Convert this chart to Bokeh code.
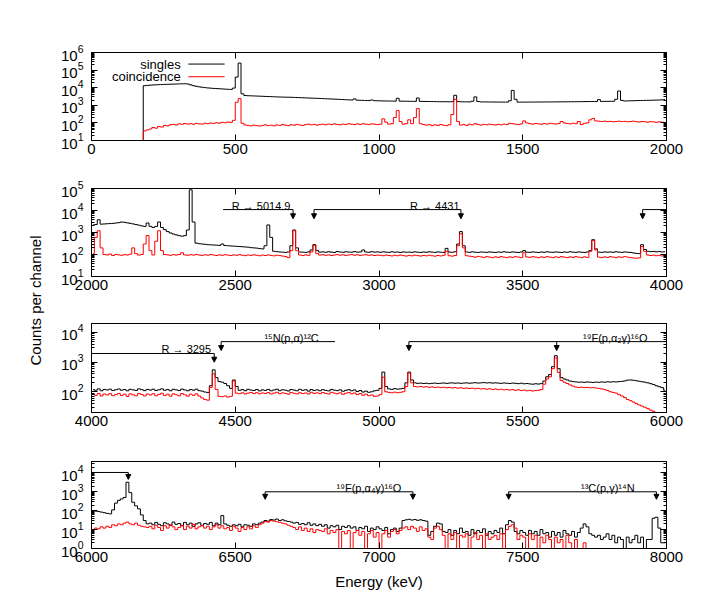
import math
import numpy as np
from bokeh.plotting import figure
from bokeh.models import (Range1d, FixedTicker, LinearAxis, LogAxis, Label, Arrow,
                          NormalHead, CustomJSTickFormatter)
from bokeh.layouts import row, column
from bokeh.embed import file_html
from bokeh.resources import INLINE

# ---------------- data (counts per 10 keV bin) ----------------
BIN_KEV = 10
panel_starts = [0, 2000, 4000, 6000]
panel_ymin = [10, 10, 20, 1]
panel_ymax = [1e6, 1e5, 2e4, 4e4]
x_tick_step = 500

singles_p1 = [
    10, 10, 10, 10, 10, 10, 10, 10, 10, 10,
    10, 10, 10, 10, 10, 10, 10, 10, 13000, 13500,
    14000, 14300, 14600, 14900, 15100, 15400, 15600, 15800, 16000, 16200,
    16400, 16600, 16800, 16200, 14500, 13000, 12000, 11200, 10600, 10100,
    9700, 9400, 9100, 8900, 8700, 8500, 8300, 8100, 8000, 9500,
    40000, 250000, 4500, 3600, 3500, 3450, 3400, 3350, 3300, 3250,
    3200, 3150, 3100, 3050, 3000, 2960, 2930, 2900, 2880, 2850,
    2800, 2760, 2720, 2680, 2640, 2600, 2560, 2520, 2480, 2440,
    2400, 2360, 2320, 2280, 2240, 2200, 2160, 2120, 2080, 2040,
    2000, 2300, 1960, 1930, 1900, 1880, 1860, 2000, 1830, 1810,
    1790, 1770, 1760, 1750, 1740, 1730, 2500, 1720, 1710, 1700,
    1690, 1680, 1680, 2600, 1670, 1660, 1650, 1640, 1630, 1620,
    1610, 1600, 1600, 1590, 1590, 1600, 3700, 1620, 1580, 1570,
    1570, 1560, 1700, 3000, 1650, 1560, 1550, 1550, 1540, 1540,
    1530, 1530, 1520, 1520, 1520, 1800, 7000, 2200, 1520, 1520,
    1520, 1520, 1530, 1530, 1530, 1540, 1540, 1540, 1550, 1550,
    1560, 1560, 1570, 1570, 1580, 1580, 1590, 1600, 1600, 1610,
    1620, 1620, 1630, 1640, 1640, 1650, 2100, 1660, 1670, 1680,
    1690, 1700, 2200, 6500, 1900, 1760, 1780, 1800, 1820, 1840,
    1860, 1880, 1900, 1920, 1940, 1960, 1980, 2000, 2050, 2100,
]
coinc_p1 = [
    10, 10, 10, 10, 10, 10, 10, 10, 10, 10,
    10, 10, 10, 10, 10, 10, 10, 10, 35, 40,
    45, 55, 50, 62, 58, 72, 68, 78, 82, 76,
    88, 84, 92, 86, 90, 84, 94, 88, 86, 96,
    90, 98, 94, 102, 96, 108, 102, 112, 106, 140,
    1500, 2400, 95, 76, 72, 68, 75, 70, 66, 72,
    78, 70, 74, 68, 76, 72, 80, 75, 70, 78,
    74, 82, 76, 72, 80, 85, 78, 82, 75, 80,
    84, 78, 86, 80, 88, 82, 78, 85, 80, 90,
    84, 80, 88, 82, 90, 85, 80, 88, 84, 80,
    85, 170, 110, 85, 90, 200, 500, 120, 85, 90,
    150, 90, 200, 650, 90, 80, 75, 80, 70, 78,
    72, 80, 74, 70, 78, 300, 2200, 120, 75, 80,
    72, 85, 78, 90, 80, 75, 82, 78, 85, 80,
    76, 82, 78, 85, 80, 95, 90, 85, 80, 88,
    130, 100, 90, 85, 92, 88, 84, 90, 86, 95,
    90, 86, 92, 120, 100, 92, 88, 95, 90, 120,
    80, 95, 100, 150, 180, 130, 125, 120, 125, 118,
    122, 115, 120, 125, 118, 122, 116, 120, 125, 118,
    112, 120, 116, 110, 118, 114, 108, 115, 110, 105,
]

singles_p2 = [
    2200, 2300, 3800, 2400, 2450, 2500, 2550, 2600, 2700, 2800,
    3000, 2900, 2750, 2600, 2450, 2300, 2150, 2000, 1900, 2700,
    1900, 1700, 1900, 3000, 1700, 1350, 1100, 950, 850, 780,
    720, 680, 720, 1300, 87000, 3000, 330, 310, 300, 290,
    280, 275, 270, 265, 260, 300, 255, 250, 245, 240,
    235, 230, 225, 220, 215, 205, 200, 195, 185, 180,
    250, 2200, 600, 140, 135, 130, 128, 125, 130, 250,
    1300, 200, 130, 128, 125, 130, 160, 280, 150, 128,
    132, 126, 134, 128, 124, 136, 130, 126, 133, 129,
    127, 135, 128, 131, 160, 130, 126, 134, 128, 131,
    126, 132, 128, 125, 133, 127, 130, 124, 131, 127,
    129, 125, 132, 127, 124, 130, 126, 133, 128, 125,
    131, 127, 124, 190, 130, 126, 133, 300, 1100, 250,
    130, 126, 132, 127, 124, 130, 128, 125, 131, 127,
    124, 130, 126, 133, 128, 125, 131, 127, 124, 130,
    150, 128, 125, 131, 127, 124, 130, 126, 133, 128,
    125, 131, 127, 124, 130, 126, 133, 128, 125, 131,
    127, 124, 130, 150, 470, 180, 128, 125, 131, 127,
    130, 126, 133, 128, 125, 131, 127, 124, 118, 112,
    110, 280, 170, 140, 135, 138, 132, 136, 130, 134,
]
coinc_p2 = [
    110, 600, 1200, 200, 100, 95, 105, 90, 100, 96,
    92, 98, 95, 104, 200, 110, 94, 100, 300, 730,
    150, 95, 400, 1200, 150, 100, 96, 92, 98, 94,
    100, 120, 96, 92, 98, 94, 100, 95, 91, 97,
    93, 99, 95, 90, 96, 92, 98, 94, 90, 96,
    92, 98, 93, 89, 95, 91, 97, 92, 88, 94,
    90, 96, 91, 87, 93, 89, 85, 80, 72, 150,
    1200, 150, 95, 90, 96, 92, 130, 260, 110, 94,
    98, 92, 96, 90, 95, 99, 93, 97, 91, 95,
    99, 93, 97, 91, 95, 98, 92, 96, 90, 94,
    92, 88, 94, 90, 86, 92, 88, 94, 89, 85,
    91, 87, 93, 89, 85, 91, 87, 93, 88, 84,
    90, 86, 92, 140, 88, 84, 90, 250, 870, 200,
    88, 84, 80, 75, 82, 78, 74, 80, 76, 72,
    78, 74, 80, 76, 72, 78, 74, 80, 76, 72,
    120, 78, 74, 80, 76, 72, 78, 74, 80, 76,
    72, 78, 74, 80, 76, 72, 78, 74, 80, 76,
    72, 78, 74, 140, 430, 160, 76, 72, 78, 74,
    80, 76, 72, 78, 74, 80, 76, 72, 70, 68,
    70, 230, 140, 95, 90, 94, 88, 92, 86, 90,
]

singles_p3 = [
    118, 112, 125, 108, 120, 115, 122, 110, 117, 124,
    113, 119, 108, 121, 116, 111, 125, 118, 109, 120,
    114, 122, 110, 117, 125, 112, 119, 108, 121, 116,
    110, 123, 115, 108, 119, 113, 122, 109, 105, 98,
    95, 160, 550, 300, 220, 210, 190, 160, 130, 250,
    150, 112, 118, 108, 121, 114, 110, 119, 107, 116,
    111, 120, 108, 115, 122, 109, 117, 113, 106, 119,
    114, 108, 121, 112, 117, 105, 119, 110, 116, 108,
    118, 111, 107, 120, 113, 109, 116, 104, 112, 118,
    108, 115, 102, 110, 98, 105, 96, 100, 108, 112,
    130, 460, 150, 125, 120, 128, 122, 126, 130, 200,
    460, 250, 200, 192, 196, 190, 194, 188, 192, 196,
    190, 194, 198, 192, 196, 200, 194, 198, 192, 196,
    200, 194, 198, 202, 196, 200, 204, 198, 202, 196,
    200, 196, 192, 198, 194, 190, 196, 192, 188, 194,
    186, 190, 184, 180, 186, 182, 188, 230, 320, 380,
    700, 1650, 600, 300, 270, 250, 230, 220, 215, 210,
    212, 208, 214, 210, 206, 212, 208, 214, 210, 216,
    212, 218, 214, 220, 224, 232, 246, 250, 245, 236,
    226, 218, 210, 200, 188, 175, 160, 148, 138, 112,
]
coinc_p3 = [
    82, 76, 88, 72, 84, 78, 86, 74, 80, 88,
    75, 83, 70, 85, 79, 73, 87, 81, 72, 84,
    78, 86, 73, 81, 89, 75, 83, 71, 85, 79,
    73, 87, 79, 71, 83, 76, 85, 72, 62, 55,
    52, 140, 400, 120, 70, 68, 72, 66, 70, 230,
    90, 86, 92, 84, 90, 95, 87, 93, 85, 91,
    88, 94, 84, 90, 96, 86, 92, 88, 83, 95,
    89, 85, 93, 87, 91, 84, 96, 88, 92, 86,
    94, 88, 84, 96, 90, 86, 92, 82, 89, 95,
    85, 91, 80, 87, 76, 83, 74, 78, 70, 72,
    80, 310, 100, 95, 92, 97, 93, 96, 100, 150,
    425, 200, 150, 146, 150, 144, 148, 142, 146, 140,
    144, 138, 142, 136, 140, 134, 138, 132, 136, 130,
    134, 128, 132, 126, 130, 124, 128, 122, 126, 120,
    124, 118, 122, 116, 120, 114, 118, 112, 116, 110,
    114, 108, 112, 106, 110, 112, 118, 180, 270, 320,
    600, 1380, 450, 240, 210, 190, 170, 155, 145, 140,
    142, 138, 140, 136, 138, 134, 130, 125, 118, 110,
    100, 95, 90, 80, 72, 64, 55, 50, 45, 40,
    36, 33, 30, 27, 24, 22, 18, 12, 10, 10,
]

singles_p4 = [
    100, 95, 90, 84, 78, 72, 68, 110, 250, 350,
    420, 500, 3200, 900, 280, 180, 125, 60, 30, 20,
    22, 18, 24, 19, 16, 23, 20, 17, 25, 19,
    21, 16, 24, 18, 22, 15, 20, 23, 17, 21,
    19, 24, 16, 22, 18, 55, 20, 17, 15, 18,
    16, 19, 14, 18, 17, 15, 20, 18, 22, 25,
    30, 28, 34, 32, 36, 30, 33, 29, 27, 25,
    22, 24, 19, 21, 18, 23, 17, 20, 16, 19,
    15, 18, 12, 16, 14, 17, 10, 15, 13, 16,
    12, 14, 9, 13, 11, 15, 8, 12, 10, 14,
    11, 9, 13, 6, 10, 12, 8, 12, 30, 33,
    35, 32, 34, 31, 33, 30, 28, 5, 8, 15,
    22, 20, 8, 7, 10, 5, 9, 6, 12, 7,
    8, 5, 10, 6, 9, 7, 11, 5, 8, 6,
    9, 7, 12, 6, 18, 30, 25, 8, 6, 9,
    7, 5, 9, 6, 8, 5, 10, 6, 7, 4,
    8, 5, 7, 4, 9, 6, 5, 8, 4, 7,
    12, 20, 14, 6, 5, 4, 5, 3, 4, 6,
    3, 5, 2, 4, 3, 1, 4, 2, 3, 5,
    2, 4, 1, 3, 3, 40, 45, 12, 2, 2,
]
coinc_p4 = [
    10, 12, 11, 14, 12, 15, 13, 18, 16, 20,
    18, 22, 25, 20, 18, 22, 17, 15, 14, 13,
    15, 11, 17, 13, 9, 16, 12, 18, 14, 10,
    13, 17, 10, 15, 12, 19, 11, 14, 16, 12,
    15, 10, 14, 18, 12, 16, 11, 13, 9, 15,
    12, 8, 13, 10, 14, 11, 16, 13, 18, 22,
    27, 25, 30, 28, 26, 24, 22, 20, 17, 15,
    13, 10, 14, 9, 12, 8, 11, 7, 10, 9,
    8, 11, 6, 9, 7, 10, 1, 8, 6, 9,
    1, 7, 9, 5, 8, 1, 6, 9, 4, 7,
    1, 6, 9, 4, 8, 10, 6, 9, 12, 14,
    10, 15, 12, 8, 14, 9, 11, 4, 3, 12,
    15, 10, 5, 1, 6, 3, 7, 1, 5, 4,
    6, 1, 4, 7, 3, 5, 1, 6, 3, 4,
    5, 3, 6, 1, 10, 15, 18, 12, 3, 5,
    4, 1, 6, 3, 5, 1, 4, 2, 5, 3,
    1, 4, 2, 3, 1, 5, 2, 1, 3, 1,
    1, 2, 1, 1, 1, 1, 1, 1, 1, 1,
    1, 1, 1, 1, 1, 1, 1, 1, 1, 1,
    1, 1, 1, 1, 1, 1, 1, 1, 1, 1,
]

singles_all = [singles_p1, singles_p2, singles_p3, singles_p4]
coinc_all = [coinc_p1, coinc_p2, coinc_p3, coinc_p4]

# legend (panel 1)
legend_labels = ["singles", "coincidence"]
legend_y = [2.2e5, 4.2e4]

# annotation brackets: horizontal lines, arrows, labels
br_x0 = {1: [2458, 2774, 3917], 2: [3900, 4451, 5104], 3: [5900, 6604, 7451]}
br_x1 = {1: [2701, 3285, 4100], 2: [4427, 4847, 6100], 3: [6128, 7118, 7965]}
br_y = {1: [11000, 11000, 11000], 2: [1950, 4900, 4900], 3: [10500, 1000, 1000]}
ar_x = {1: [2701, 2774, 3285, 3917], 2: [4427, 4451, 5104, 5618],
        3: [6128, 6604, 7118, 7451, 7965]}
ar_top = {1: [11000] * 4, 2: [1950, 4900, 4900, 4900], 3: [10500, 1000, 1000, 1000, 1000]}
ar_tip = {1: [4200] * 4, 2: [990, 2450, 2450, 2450], 3: [4500, 400, 400, 400, 400]}
ann_text = {1: ["R \u2192 5014.9", "R \u2192 4431"],
            2: ["R \u2192 3295", "\u00b9\u2075N(p,\u03b1)\u00b9\u00b2C",
                "\u00b9\u2079F(p,\u03b1\u2082\u03b3)\u00b9\u2076O"],
            3: ["\u00b9\u2079F(p,\u03b1\u2084\u03b3)\u00b9\u2076O",
                "\u00b9\u00b3C(p,\u03b3)\u00b9\u2074N"]}
ann_x = {1: [2692, 3280], 2: [4416, 4696, 5934], 3: [6965, 7796]}
ann_y = {1: [11000, 11000], 2: [1950, 4900, 4900], 3: [1000, 1000]}
ann_align = {1: ["right", "right"], 2: ["right", "center", "right"], 3: ["center", "center"]}

# ---------------- styling ----------------
FONT = "Liberation Sans"
BLACK = "#000000"
RED = "#ff0000"
FIG_W = 660
heights = [164, 136, 136, 168]
tops = [52, 24, 23, 25]
bottoms = [24, 24, 24, 56]


def log_ticks(lo, hi):
    majors = [10.0 ** k for k in range(-1, 8) if lo <= 10.0 ** k <= hi * 1.0001]
    minors = [m * 10.0 ** k for k in range(-1, 8) for m in range(2, 10)
              if lo <= m * 10.0 ** k <= hi]
    return majors, minors


def style_axis(ax, labels=True):
    ax.axis_line_color = BLACK
    ax.axis_line_width = 1
    ax.major_tick_line_color = BLACK
    ax.minor_tick_line_color = BLACK
    ax.major_tick_in = 6
    ax.major_tick_out = 0
    ax.minor_tick_in = 3
    ax.minor_tick_out = 0
    ax.major_label_text_font = FONT
    ax.major_label_text_font_size = "15px"
    ax.major_label_text_color = BLACK
    if not labels:
        ax.formatter = CustomJSTickFormatter(code="return ''")


panels = []
for i in range(4):
    x0 = panel_starts[i]
    p = figure(width=FIG_W, height=heights[i],
               x_range=Range1d(x0, x0 + 2000),
               y_range=Range1d(panel_ymin[i], panel_ymax[i]),
               y_axis_type="log", output_backend="svg", toolbar_location=None,
               min_border_left=43, min_border_right=42,
               min_border_top=tops[i], min_border_bottom=bottoms[i])
    p.grid.visible = False
    p.outline_line_color = BLACK
    p.outline_line_alpha = 1.0
    p.background_fill_color = "white"
    p.border_fill_color = "white"

    xt = FixedTicker(ticks=[x0 + k * x_tick_step for k in range(5)], minor_ticks=[])
    majors, minors = log_ticks(panel_ymin[i], panel_ymax[i])
    yt = FixedTicker(ticks=majors, minor_ticks=minors)

    xa = p.below[0]
    xa.ticker = xt
    style_axis(xa)
    xa.minor_tick_in = 0
    xa.major_label_standoff = 3
    ya = p.left[0]
    ya.ticker = yt
    style_axis(ya)
    ya.major_label_standoff = 8

    top = LinearAxis(ticker=xt)
    style_axis(top, labels=False)
    top.minor_tick_in = 0
    p.add_layout(top, "above")
    right = LogAxis(ticker=yt)
    style_axis(right, labels=False)
    p.add_layout(right, "right")

    energy = np.arange(x0, x0 + 2000, BIN_KEV) + BIN_KEV / 2
    assert len(singles_all[i]) == len(energy) and len(coinc_all[i]) == len(energy), i
    p.step(energy, singles_all[i], mode="center", line_color=BLACK, line_width=1)
    p.step(energy, coinc_all[i], mode="center", line_color=RED, line_width=1)

    if i == 0:
        for lab, yy, col in zip(legend_labels, legend_y, [BLACK, RED]):
            p.add_layout(Label(x=310, y=yy, text=lab, text_align="right",
                               text_baseline="middle", text_font=FONT,
                               text_font_size="13px", text_color=BLACK))
            p.segment(x0=[337], y0=[yy], x1=[463], y1=[yy], line_color=col, line_width=1)
    else:
        p.segment(x0=br_x0[i], y0=br_y[i], x1=br_x1[i], y1=br_y[i],
                  line_color=BLACK, line_width=1)
        for ax_, yt0, yt1 in zip(ar_x[i], ar_top[i], ar_tip[i]):
            p.add_layout(Arrow(x_start=ax_, y_start=yt0, x_end=ax_, y_end=yt1,
                               line_color=BLACK, line_width=1,
                               end=NormalHead(size=5, fill_color=BLACK,
                                              line_color=BLACK, line_width=1)))
        for t, tx, ty, al in zip(ann_text[i], ann_x[i], ann_y[i], ann_align[i]):
            p.add_layout(Label(x=tx, y=ty, text=t, text_align=al,
                               text_baseline="alphabetic", y_offset=4,
                               text_font=FONT, text_font_size="11px",
                               text_color=BLACK))
    if i == 3:
        xa.axis_label = "Energy (keV)"
        xa.axis_label_text_font = FONT
        xa.axis_label_text_font_size = "15px"
        xa.axis_label_text_font_style = "normal"
        xa.axis_label_text_color = BLACK
        xa.axis_label_standoff = 8
    panels.append(p)

ylab = figure(width=48, height=sum(heights), output_backend="svg",
              toolbar_location=None, x_axis_location=None, y_axis_location=None,
              min_border=0)
ylab.outline_line_color = None
ylab.grid.visible = False
ylab.add_layout(Label(x=35, y=304, x_units="screen", y_units="screen",
                      text="Counts per channel", angle=math.pi / 2,
                      text_align="center", text_baseline="middle",
                      text_font=FONT, text_font_size="15px", text_color=BLACK))

layout = row(ylab, column(*panels))
open("out.html", "w").write(file_html(layout, INLINE))
